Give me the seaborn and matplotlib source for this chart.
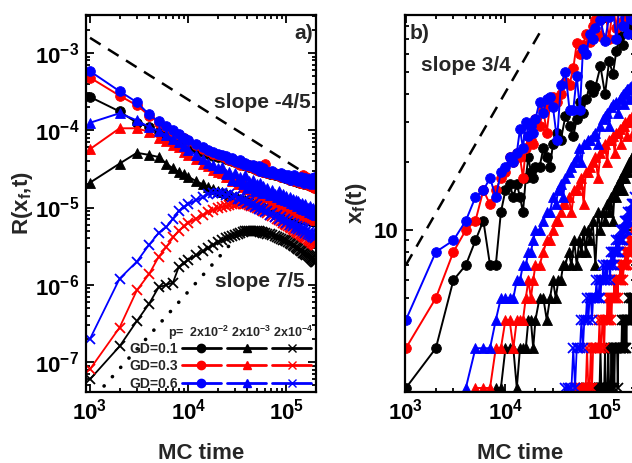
import numpy as np
import pandas as pd
import matplotlib
matplotlib.use("Agg")
import matplotlib.pyplot as plt
import seaborn as sns
from matplotlib.lines import Line2D
from matplotlib.ticker import LogLocator, NullFormatter, FuncFormatter

# ---------------- panel a : R(x_f, t) ----------------
# MC time / 1000
ta_k = [1, 2, 3, 4, 5, 6, 7, 8, 9, 10, 12, 14, 16, 18, 20,
        22, 24, 26, 28, 30, 32, 34, 36, 38, 40, 42, 44, 46, 48, 50, 52, 54, 56, 58, 60,
        64, 68, 72, 76, 80, 84, 88, 92, 96, 100, 104, 108, 112, 116, 120, 124, 128, 132, 136, 140,
        144, 148, 152, 156, 160, 164, 168, 172, 176, 180, 184, 188, 192, 196, 200]

# p = 2x10^-2 (circles), units 1e-5
a_circ_gd01 = [27, 17.5, 12.5, 11, 9.5, 8.5, 7.6, 7.0, 6.5, 6.2, 5.7, 5.3, 5.0, 4.7, 4.5,
               4.5, 4.3, 4.15, 4.0, 3.9, 3.8, 3.7, 3.6, 3.5, 3.4, 3.35, 3.3, 3.2, 3.15, 3.1, 3.05, 3.0, 2.95, 2.9, 2.85,
               2.8, 2.75, 2.7, 2.65, 2.6, 2.55, 2.5, 2.45, 2.4, 2.4, 2.35, 2.3, 2.3, 2.25, 2.2, 2.2, 2.15, 2.15, 2.1, 2.1,
               2.05, 2.05, 2.0, 2.0, 2.0, 1.95, 1.95, 1.95, 1.9, 1.9, 1.9, 1.85, 1.85, 1.85, 1.8]
a_circ_gd03 = [48, 28, 21, 15.5, 12.5, 11, 9.5, 8.6, 8.0, 7.2, 6.4, 5.8, 5.4, 5.0, 4.8,
               4.6, 4.4, 4.1, 4.2, 3.9, 3.8, 3.6, 3.8, 3.5, 3.4, 3.5, 3.3, 3.2, 3.4, 3.1, 3.0, 3.2, 3.0, 2.9, 3.7,
               2.8, 2.9, 2.7, 2.8, 2.6, 2.7, 2.5, 2.6, 2.5, 2.4, 2.5, 2.3, 2.4, 2.3, 2.2, 2.4, 2.2, 2.3, 2.1, 2.2,
               2.1, 2.6, 2.0, 2.1, 2.5, 2.0, 2.1, 1.9, 2.0, 2.1, 1.9, 2.0, 1.8, 1.9, 1.8]
a_circ_gd06 = [58, 32, 23, 16, 13, 11.5, 10, 9.0, 8.0, 7.4, 6.6, 6.0, 5.5, 5.3, 5.0,
               4.8, 4.7, 4.3, 4.4, 4.0, 3.9, 4.1, 3.7, 3.8, 3.5, 3.6, 3.4, 3.5, 3.2, 3.3, 3.4, 3.0, 3.1, 3.2, 2.9,
               2.9, 2.8, 3.0, 2.7, 2.7, 2.6, 2.8, 2.5, 2.6, 2.4, 2.6, 2.5, 2.3, 2.4, 2.6, 2.3, 2.4, 2.2, 2.3, 2.5,
               2.2, 2.3, 2.1, 2.4, 2.2, 2.1, 2.3, 2.0, 2.2, 2.4, 2.1, 2.0, 2.2, 2.5, 2.0]
# p = 2x10^-3 (triangles), units 1e-5
a_tri_gd01 = [2.1, 3.7, 5.1, 4.8, 4.5, 3.7, 3.2, 2.9, 2.7, 2.5, 2.2, 2.0, 1.85, 1.75, 1.65,
              1.58, 1.52, 1.47, 1.42, 1.38, 1.34, 1.3, 1.27, 1.24, 1.21, 1.18, 1.16, 1.14, 1.12, 1.1, 1.08, 1.06, 1.04, 1.02, 1.0,
              0.97, 0.95, 0.93, 0.91, 0.89, 0.87, 0.86, 0.85, 0.84, 0.83, 0.82, 0.81, 0.8, 0.79, 0.78, 0.77, 0.76, 0.76, 0.75, 0.74,
              0.74, 0.73, 0.72, 0.72, 0.71, 0.71, 0.7, 0.7, 0.69, 0.69, 0.68, 0.68, 0.67, 0.67, 0.66]
a_tri_gd03 = [5.7, 10.6, 10.6, 9.5, 7.9, 7.2, 6.5, 6.0, 5.3, 4.8, 4.2, 3.7, 3.4, 3.1, 2.9,
              2.8, 2.5, 2.5, 2.2, 2.3, 2.0, 2.1, 1.85, 1.95, 1.75, 1.8, 1.6, 1.7, 1.55, 1.6, 1.45, 1.55, 1.4, 1.45, 1.35,
              1.35, 1.2, 1.25, 1.12, 1.18, 1.05, 1.1, 1.0, 1.04, 0.95, 1.0, 0.92, 0.96, 0.88, 0.92, 0.85, 0.9, 0.82, 0.86, 0.8,
              0.84, 0.78, 0.82, 0.76, 0.8, 0.74, 0.78, 0.72, 0.76, 0.71, 0.74, 0.7, 0.72, 0.68, 0.7]
a_tri_gd06 = [12.5, 16.6, 13.4, 11, 9.8, 8.6, 7.8, 7.0, 6.2, 5.6, 4.8, 4.2, 3.8, 3.5, 3.2,
              3.3, 2.7, 2.9, 2.3, 2.8, 2.2, 2.5, 2.0, 2.6, 1.8, 2.2, 1.9, 2.3, 1.65, 2.0, 1.8, 2.1, 1.55, 1.9, 1.6,
              1.8, 1.45, 1.7, 1.5, 1.35, 1.65, 1.3, 1.5, 1.25, 1.4, 1.2, 1.35, 1.15, 1.3, 1.1, 1.25, 1.05, 1.2, 1.1, 0.98,
              1.15, 0.95, 1.05, 1.1, 0.92, 1.0, 0.88, 1.05, 0.9, 0.95, 0.85, 1.0, 0.82, 0.9, 0.8]
# p = 2x10^-4 (crosses), units 1e-6
a_x_gd01 = [0.060, 0.16, 0.34, 0.57, 0.93, 1.0, 1.07, 1.7, 1.9, 2.1, 2.4, 2.7, 3.0, 3.3, 3.6,
            3.8, 4.0, 4.15, 4.3, 4.45, 4.6, 4.7, 4.8, 4.9, 4.95, 5.0, 5.0, 5.0, 5.0, 4.95, 4.9, 4.85, 4.8, 4.75, 4.7,
            4.6, 4.5, 4.4, 4.3, 4.2, 4.05, 3.95, 3.85, 3.75, 3.65, 3.55, 3.45, 3.35, 3.25, 3.15, 3.05, 3.0, 2.9, 2.85, 2.75,
            2.7, 2.6, 2.55, 2.5, 2.45, 2.4, 2.35, 2.3, 2.25, 2.2, 2.15, 2.1, 2.05, 2.0, 1.95]
a_x_gd03 = [0.081, 0.28, 0.85, 1.38, 2.3, 3.1, 4.1, 5.0, 5.7, 6.3, 7.2, 8.0, 8.7, 9.3, 9.8,
            10.2, 10.5, 10.8, 11.0, 11.2, 11.3, 11.3, 11.2, 11.1, 11.0, 10.8, 10.6, 10.4, 10.2, 10.0, 9.8, 9.6, 9.3, 9.1, 8.9,
            8.5, 8.1, 7.8, 7.5, 7.2, 6.9, 6.6, 6.4, 6.2, 6.0, 5.8, 5.6, 5.4, 5.3, 5.1, 5.0, 4.8, 4.7, 4.6, 4.5,
            4.4, 4.3, 4.2, 4.1, 4.0, 3.9, 3.8, 3.7, 3.65, 3.6, 3.5, 3.45, 3.4, 3.3, 3.25]
a_x_gd06 = [0.20, 1.2, 2.0, 3.3, 4.7, 5.6, 7.2, 9.0, 10.2, 11.0, 12.5, 13.5, 15.0, 15.5, 15.5,
            15.2, 14.6, 14.8, 13.6, 13.9, 12.8, 13.0, 12.1, 12.6, 11.4, 11.8, 10.7, 11.2, 10.1, 10.6, 9.6, 10.0, 9.2, 9.6, 8.8,
            8.9, 8.1, 8.4, 7.6, 7.9, 7.1, 7.5, 6.7, 7.1, 6.4, 6.7, 6.0, 6.4, 5.8, 6.1, 5.5, 5.8, 5.3, 5.6, 5.1,
            5.4, 4.9, 5.2, 4.7, 5.0, 4.6, 4.8, 4.4, 4.7, 4.3, 4.5, 4.2, 4.4, 4.0, 4.2]

slope_a_t = [1000, 150000]
slope_a_r = [1.57e-3, 2.85e-5]
slope_a2_t = [1390, 31000]
slope_a2_r = [4.9e-8, 4.1e-6]

# ---------------- panel b : x_f(t) ----------------
tb_circ_k = [1, 2, 3, 4, 5, 6, 7, 8, 9, 10, 11, 12, 13, 14, 15, 16, 17, 18, 19, 20, 22, 24, 26, 28, 30,
             33, 36, 40, 44, 48, 52, 56, 60, 65, 70, 75, 80, 90, 100, 110, 120, 130, 140, 150, 160, 170, 180, 190, 200]
b_circ_gd01 = [2, 3, 6, 7, 9, 11, 7, 7, 12, 15, 16, 14, 16, 14, 12, 17, 21, 18, 17, 19, 19, 23, 21, 19, 24,
               27, 25, 32, 29, 26, 31, 37, 33, 38, 44, 41, 43, 53, 40, 56, 49, 62, 72, 66, 85, 78, 95, 88, 100]
b_circ_gd03 = [3, 5, 8, 10, 11, 15, 13, 15, 17, 18, 21, 20, 22, 21, 17, 23, 26, 25, 24, 31, 29, 34, 27, 36, 39,
               37, 40, 45, 44, 52, 67, 60, 66, 74, 68, 80, 85, 72, 95, 70, 100, 78, 105, 84, 115, 90, 120, 95, 130]
b_circ_gd06 = [4, 8, 9, 11, 14, 15, 17, 14, 18, 19, 21, 20, 22, 28, 23, 30, 26, 29, 27, 31, 37, 33, 38, 39, 35,
               25, 44, 50, 34, 34, 48, 34, 63, 60, 74, 70, 78, 85, 69, 88, 95, 70, 100, 80, 110, 74, 115, 85, 120]

tb_tri_k = [4, 5, 6, 7, 8, 9, 10, 11, 12, 13, 14, 15, 16, 17, 18, 19, 20, 22, 24, 26, 28, 30, 32, 34, 36, 38, 40,
            43, 46, 49, 52, 55, 58, 61, 64, 67, 70, 75, 80, 85, 90, 95, 100, 105, 110, 115, 120, 125, 130, 135,
            140, 145, 150, 155, 160, 165, 170, 175, 180, 185, 190, 195, 200]
b_tri_gd06 = [2, 3, 3, 3, 4, 5, 5, 5, 5, 6, 6, 7, 7, 8, 8, 9, 10, 10, 11, 12, 12, 14, 13, 15, 16, 14, 17,
              18, 19, 20, 21, 23, 20, 24, 24, 25, 25, 26, 27, 24, 29, 31, 32, 33, 29, 35, 36, 36, 37, 33,
              38, 39, 40, 36, 41, 42, 42, 38, 43, 44, 44, 40, 45]
tb_tri3_k = tb_tri_k[1:]
b_tri_gd03 = [2, 2, 2, 3, 3, 4, 4, 3, 4, 4, 4, 5, 6, 5, 6, 7, 7, 8, 9, 9, 10, 11, 11, 12, 13, 13,
              14, 12, 15, 15, 16, 17, 13, 18, 18, 19, 20, 21, 17, 22, 23, 24, 20, 25, 25, 26, 22, 27, 27,
              28, 24, 29, 29, 30, 26, 30, 31, 31, 32, 27, 32, 33]
tb_tri1_k = tb_tri_k[4:]
b_tri_gd01 = [2, 2, 3, 3, 3, 2, 3, 3, 3, 4, 4, 3, 4,
              5, 5, 4, 5, 6, 5, 6, 6, 7, 7,
              8, 7, 9, 7, 9, 8, 10, 8, 10, 9,
              11, 7, 12, 10, 12, 11, 13, 12, 14, 11, 15, 14, 16, 15, 17, 15, 18, 17, 19, 18, 20, 19, 21, 20, 22, 21]

# crosses sampled every 2000 MC steps
tb_x6_k = list(range(40, 201, 2))
b_x_gd06 = [2, 2, 2, 2, 3, 2, 3, 3, 3, 4,
            3, 4, 4, 5, 4, 5, 5, 4, 5, 5,
            5, 6, 5, 5, 6, 5, 6, 6, 7, 6,
            6, 7, 6, 7, 7, 7, 6, 7, 8, 7,
            8, 8, 7, 8, 8, 9, 8, 8, 9, 8,
            9, 9, 10, 9, 9, 10, 9, 10, 10, 11,
            10, 10, 11, 10, 11, 11, 12, 11, 11, 12,
            11, 12, 12, 13, 12, 12, 13, 12, 13, 13,
            14]
tb_x3_k = list(range(50, 201, 2))
b_x_gd03 = [2, 2, 2, 2, 2, 2, 2, 2, 3, 2,
            2, 3, 2, 3, 3, 3, 3, 3, 3, 4,
            3, 3, 4, 4, 3, 4, 4, 4, 5, 4,
            4, 5, 5, 4, 5, 5, 5, 6, 5, 5,
            6, 6, 5, 6, 6, 6, 7, 6, 6, 7,
            7, 6, 7, 7, 7, 8, 7, 7, 8, 8,
            7, 8, 8, 9, 8, 8, 9, 9, 8, 9,
            9, 10, 9, 9, 10, 10]
tb_x1_k = list(range(64, 201, 2))
b_x_gd01 = [2, 2, 2, 2, 2, 2, 2, 2, 2, 2,
            2, 2, 2, 3, 2, 2, 2, 2, 3, 2,
            2, 2, 3, 2, 2, 2, 3, 2, 3, 3,
            2, 3, 3, 3, 3, 2, 3, 3, 3, 3,
            3, 3, 4, 3, 3, 3, 4, 3, 4, 4,
            3, 4, 4, 4, 4, 4, 5, 4, 4, 4,
            5, 4, 5, 5, 4, 5, 5, 5, 5]

slope_b_t = [1000, 23400]
slope_b_x = [7.0, 78]

colors = {"0.1": "#000000", "0.3": "#ff0000", "0.6": "#0000ff"}

# ---------------- styling ----------------
sns.set_style("ticks")
plt.rcParams.update({
    "font.family": ["Liberation Sans", "DejaVu Sans"],
    "font.weight": "bold",
    "axes.labelweight": "bold",
    "mathtext.fontset": "custom",
    "mathtext.rm": "Liberation Sans:bold",
    "mathtext.it": "Liberation Sans:bold",
    "mathtext.bf": "Liberation Sans:bold",
    "mathtext.sf": "Liberation Sans:bold",
    "mathtext.default": "rm",
    "axes.unicode_minus": False,
    "axes.edgecolor": "black",
    "xtick.color": "black",
    "ytick.color": "black",
})

fig = plt.figure(figsize=(6.32, 4.63), dpi=100)
axa = fig.add_axes([86 / 632, 71 / 463, 230 / 632, 377 / 463])
axb = fig.add_axes([405 / 632, 71 / 463, 230 / 632, 377 / 463])


def draw(ax, t_k, vals, scale, gd, marker):
    c = colors[gd]
    t = [k * 1000 for k in t_k]
    v = [x * scale for x in vals]
    if marker == "x":
        kw = dict(markersize=7, markeredgewidth=1.3, linewidth=1.3)
    else:
        kw = dict(markersize=7, markeredgewidth=0.6, linewidth=1.4)
    sns.lineplot(x=t, y=v, ax=ax, estimator=None, sort=False, color=c, marker=marker,
                 markerfacecolor=c, markeredgecolor=c, **kw)


# panel a  (series drawn GD by GD: black, red, blue)
series_a = {
    "0.1": [(a_circ_gd01, 1e-5, "o"), (a_tri_gd01, 1e-5, "^"), (a_x_gd01, 1e-6, "x")],
    "0.3": [(a_circ_gd03, 1e-5, "o"), (a_tri_gd03, 1e-5, "^"), (a_x_gd03, 1e-6, "x")],
    "0.6": [(a_circ_gd06, 1e-5, "o"), (a_tri_gd06, 1e-5, "^"), (a_x_gd06, 1e-6, "x")],
}
for gd, lst in series_a.items():
    for vals, sc, mk in lst:
        draw(axa, ta_k, vals, sc, gd, mk)

axa.plot(slope_a_t, slope_a_r, color="black", lw=1.8, linestyle=(0, (5, 3.5)))
axa.plot(slope_a2_t, slope_a2_r, color="black", lw=2.6, linestyle=(0, (0.05, 3.4)),
         dash_capstyle="round")

# panel b
series_b = {
    "0.1": [(tb_circ_k, b_circ_gd01, "o"), (tb_tri1_k, b_tri_gd01, "^"), (tb_x1_k, b_x_gd01, "x")],
    "0.3": [(tb_circ_k, b_circ_gd03, "o"), (tb_tri3_k, b_tri_gd03, "^"), (tb_x3_k, b_x_gd03, "x")],
    "0.6": [(tb_circ_k, b_circ_gd06, "o"), (tb_tri_k, b_tri_gd06, "^"), (tb_x6_k, b_x_gd06, "x")],
}
for gd, lst in series_b.items():
    for t_k, vals, mk in lst:
        draw(axb, t_k, vals, 1, gd, mk)
axb.plot(slope_b_t, slope_b_x, color="black", lw=1.8, linestyle=(0, (5, 3.5)))

# axes
for ax in (axa, axb):
    ax.set_xscale("log")
    ax.set_yscale("log")
    ax.tick_params(which="both", direction="in", top=True, right=True, width=1.3, color="black")
    ax.tick_params(which="major", length=5.5, labelsize=16, pad=5)
    ax.tick_params(which="minor", length=3)
    for s in ax.spines.values():
        s.set_linewidth(1.6)
        s.set_color("black")
    ax.set_xlabel("MC time", fontsize=16, labelpad=13)

axa.set_xlim(910, 2.0e5)
axa.set_ylim(4.1e-8, 3.1e-3)
axb.set_xlim(980, 2.0e5)
axb.set_ylim(1.92, 89.5)

axa.set_ylabel("R(x$_f$,t)", fontsize=16, labelpad=0)
axb.set_ylabel("x$_f$(t)", fontsize=16, labelpad=3)

axb.yaxis.set_major_locator(LogLocator(base=10))
axb.yaxis.set_major_formatter(FuncFormatter(lambda v, p: f"{v:g}"))
axb.yaxis.set_minor_formatter(NullFormatter())

# texts
axa.text(0.987, 0.952, "a)", ha="right", va="center", fontsize=15, transform=axa.transAxes)
axa.text(0.978, 0.769, "slope -4/5", ha="right", va="center", fontsize=15, transform=axa.transAxes)
axa.text(0.952, 0.292, "slope 7/5", ha="right", va="center", fontsize=15, transform=axa.transAxes)
axb.text(0.022, 0.952, "b)", ha="left", va="center", fontsize=15, transform=axb.transAxes)
axb.text(0.07, 0.865, "slope 3/4", ha="left", va="center", fontsize=15, transform=axb.transAxes)

# legend
handles = []
for mk in ["o", "^", "x"]:
    for gd in ["0.1", "0.3", "0.6"]:
        c = colors[gd]
        handles.append(Line2D([], [], color=c, marker=mk, markersize=6, lw=2.0,
                              markerfacecolor=c, markeredgecolor=c,
                              markeredgewidth=1.0))
labels = ["GD=0.1", "GD=0.3", "GD=0.6"] + [""] * 6
axa.legend(handles, labels, ncol=3, loc="lower right", bbox_to_anchor=(0.985, 0.0),
           frameon=False, fontsize=10, handlelength=2.8, handletextpad=0.3,
           columnspacing=0.15, labelspacing=0.25, borderpad=0.1, borderaxespad=0.0,
           markerfirst=False)
axa.text(0.987, 0.157, "p=  2x10$^{-2}$ 2x10$^{-3}$ 2x10$^{-4}$", ha="right", va="center",
         fontsize=9, transform=axa.transAxes)

fig.savefig("out.png", dpi=100)
